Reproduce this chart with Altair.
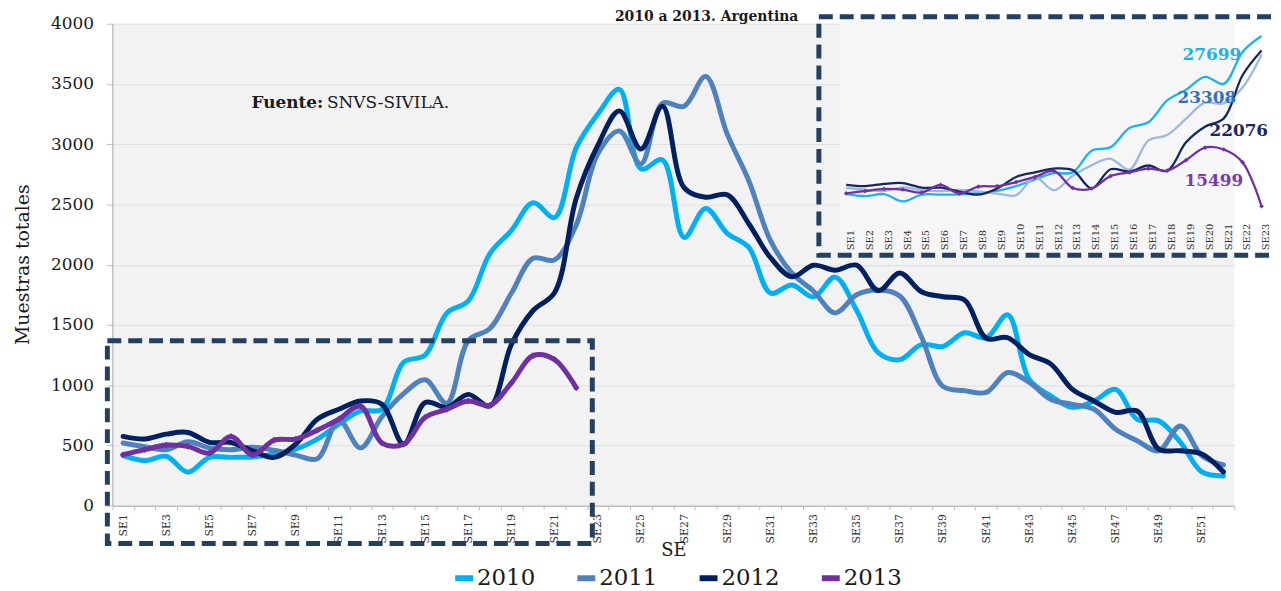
import altair as alt
import pandas as pd

weeks = [f"SE{i}" for i in range(1, 53)]
years = ["2010", "2011", "2012", "2013"]
main_colors = ["#00b0f0", "#4f81bd", "#002060", "#7030a0"]
inset_colors = ["#1bb2ee", "#9db8dd", "#14285e", "#7030a0"]

v2010 = [415, 374, 410, 278, 401, 401, 405, 429, 470, 553, 676, 786, 800, 1190, 1250,
         1598, 1700, 2093, 2285, 2515, 2392, 2970, 3250, 3455, 2796, 2870, 2227, 2466,
         2260, 2144, 1765, 1831, 1732, 1897, 1620, 1270, 1212, 1336, 1322, 1435, 1394,
         1584, 1047, 910, 816, 869, 965, 717, 704, 528, 280, 247]
v2011 = [520, 490, 465, 530, 480, 465, 485, 460, 420, 390, 710, 480, 740, 930, 1045,
         850, 1370, 1470, 1765, 2053, 2040, 2330, 2920, 3109, 2837, 3340, 3315, 3563,
         3084, 2697, 2202, 1930, 1780, 1600, 1750, 1790, 1740, 1402, 990, 955, 940,
         1105, 1023, 882, 841, 800, 635, 539, 456, 662, 415, 338]
v2012 = [575, 553, 594, 608, 525, 525, 456, 401, 511, 718, 800, 869, 841, 511, 857,
         816, 924, 827, 1340, 1620, 1770, 2550, 2990, 3275, 2960, 3315, 2640, 2560,
         2580, 2340, 2060, 1900, 1996, 1955, 1996, 1784, 1932, 1776, 1734, 1707, 1390,
         1394, 1254, 1175, 965, 869, 775, 786, 470, 456, 429, 280]
# SE1-SE23 (main chart shows up to SE22, inset up to SE23)
v2013 = [423, 465, 503, 492, 437, 575, 421, 544, 553, 627, 718, 827, 520, 510, 734,
         800, 869, 833, 1020, 1245, 1212, 979, 192]

totals = ["27699", "23308", "22076", "15499"]
total_colors = ["#1fb1ed", "#2e74c0", "#1b2a5c", "#7a3ca8"]

FONT = "DejaVu Serif"

# ---------- data tables ----------
main_rows = []
for yr, vals in zip(years, [v2010, v2011, v2012, v2013[:22]]):
    for i, v in enumerate(vals):
        main_rows.append({"se": weeks[i], "year": yr, "v": v})
df_main = pd.DataFrame(main_rows)

inset_rows = []
for yr, vals in zip(years, [v2010[:23], v2011[:23], v2012[:23], v2013]):
    for i, v in enumerate(vals):
        inset_rows.append({"k": i + 1, "year": yr, "v": v})
df_inset = pd.DataFrame(inset_rows)
df_inset_lab = pd.DataFrame({"k": list(range(1, 24)), "lab": weeks[:23]})
one = pd.DataFrame({"a": [0]})

# ---------- main chart ----------
x_main = alt.X(
    "se:O", sort=weeks, bandPosition=0.5,
    scale=alt.Scale(type="band", paddingInner=0, paddingOuter=0),
    axis=alt.Axis(
        title="SE", titleFontSize=18, titleFontWeight="normal", titleColor="#1a1a1a",
        titleBaseline="alphabetic", titleY=50,
        labelAngle=-90, labelFontSize=11, labelColor="#333333", labelPadding=4,
        labelOverlap=False,
        labelExpr="toNumber(slice(datum.label, 2)) % 2 == 1 ? datum.label : ''",
        tickBand="extent", tickSize=4, tickColor="#bfbfbf",
        domainColor="#bfbfbf", domainWidth=1.5, grid=False,
    ),
)
y_main = alt.Y(
    "v:Q", scale=alt.Scale(domain=[0, 4000], nice=False),
    axis=alt.Axis(
        title="Muestras totales", titleFontSize=19, titleFontWeight="normal",
        titleColor="#1a1a1a", titleAngle=270, titleBaseline="alphabetic",
        titleAlign="center", titleX=-84, titleY=242,
        values=list(range(0, 4001, 500)), format="d",
        labelFontSize=17, labelColor="#1a1a1a",
        labelPadding=13, tickSize=6, tickColor="#bfbfbf",
        domainColor="#bfbfbf", domainWidth=1.5,
        grid=True, gridColor="#e0e0e0", gridWidth=1,
    ),
)

main_lines = alt.Chart(df_main).mark_line(
    interpolate="catmull-rom", strokeWidth=5, strokeCap="round", strokeJoin="round"
).encode(
    x=x_main, y=y_main,
    color=alt.Color(
        "year:N", scale=alt.Scale(domain=years, range=main_colors),
        legend=alt.Legend(
            title=None, orient="none", legendX=342, legendY=546, direction="horizontal",
            symbolType="stroke", symbolSize=324, symbolStrokeWidth=6,
            labelFont=FONT, labelFontSize=23, labelColor="#1a1a1a", labelOffset=1,
            columnPadding=30,
        ),
    ),
)
main_pts = alt.Chart(df_main).transform_filter(alt.datum.year == "2013").mark_point(
    shape="diamond", filled=True, size=45, opacity=1, color="#7030a0"
).encode(x=x_main, y=y_main)

main = alt.layer(main_lines, main_pts)

# ---------- inset ----------
ix = alt.X("k:Q", scale=alt.Scale(domain=[0.5, 23.5], range=[729, 1166], nice=False, zero=False), axis=None)
iy = alt.Y("v:Q", scale=alt.Scale(domain=[0, 3500], range=[194.4, -1.6], nice=False), axis=None)

inset_lines = alt.Chart(df_inset).mark_line(
    interpolate="catmull-rom", strokeWidth=2.3
).encode(
    x=ix, y=iy,
    color=alt.Color("year:N", scale=alt.Scale(domain=years, range=inset_colors), legend=None),
)
inset_pts = alt.Chart(df_inset).transform_filter(alt.datum.year == "2013").mark_point(
    shape="diamond", filled=True, size=22, opacity=1, color="#7030a0"
).encode(x=ix, y=iy)
inset_labels = alt.Chart(df_inset_lab).transform_calculate(kl="datum.k + 0.25").mark_text(
    angle=270, align="left", baseline="middle", font=FONT, fontSize=10, color="#333333"
).encode(
    x=alt.X("kl:Q", scale=alt.Scale(domain=[0.5, 23.5], range=[729, 1166], nice=False, zero=False), axis=None),
    y=alt.value(228), text="lab:N",
)
inset = alt.layer(inset_lines, inset_pts, inset_labels)

# ---------- decorations ----------
inset_bg = alt.Chart(one).mark_rect(fill="#f6f6f6").encode(
    x=alt.value(732), x2=alt.value(1129), y=alt.value(-4), y2=alt.value(231)
)
box_style = dict(fillOpacity=0, stroke="#243f60", strokeWidth=5, strokeDash=[14, 7])
box1 = alt.Chart(one).mark_rect(**box_style).encode(
    x=alt.value(-5), x2=alt.value(483), y=alt.value(319), y2=alt.value(523)
)
box2 = alt.Chart(one).mark_rect(**box_style).encode(
    x=alt.value(711), x2=alt.value(1185), y=alt.value(-7), y2=alt.value(233)
)

title_txt = alt.Chart(one).mark_text(
    text="2010 a 2013. Argentina", font=FONT, fontSize=14, fontWeight="bold",
    align="center", baseline="alphabetic", color="#1a1a1a"
).encode(x=alt.value(598), y=alt.value(-3))

src_bold = alt.Chart(one).mark_text(
    text="Fuente:", font=FONT, fontSize=17, fontWeight="bold",
    align="left", baseline="alphabetic", color="#1a1a1a"
).encode(x=alt.value(140), y=alt.value(85))
src_norm = alt.Chart(one).mark_text(
    text="SNVS-SIVILA.", font=FONT, fontSize=17,
    align="left", baseline="alphabetic", color="#1a1a1a"
).encode(x=alt.value(216), y=alt.value(85))

tot_x = [1077, 1072, 1104, 1079]
tot_y = [31, 74.5, 108, 158]
tot_layers = []
for t, c, xx, yy in zip(totals, total_colors, tot_x, tot_y):
    tot_layers.append(
        alt.Chart(one).mark_text(
            text=t, font=FONT, fontSize=17, fontWeight="bold", color=c,
            align="left", baseline="middle"
        ).encode(x=alt.value(xx), y=alt.value(yy))
    )

chart = alt.layer(
    inset_bg, main, inset, box1, box2, title_txt, src_bold, src_norm, *tot_layers
).resolve_scale(
    x="independent", y="independent", color="independent"
).properties(
    width=1129, height=485,
    autosize=alt.AutoSizeParams(type="none"),
    padding={"left": 105, "top": 14, "right": 39, "bottom": 84},
    background="white",
).configure_view(
    fill="#f2f2f2", strokeWidth=0
).configure_axis(
    labelFont=FONT, titleFont=FONT
)

chart.save("out.html", embed_options={"renderer": "svg", "actions": False})
